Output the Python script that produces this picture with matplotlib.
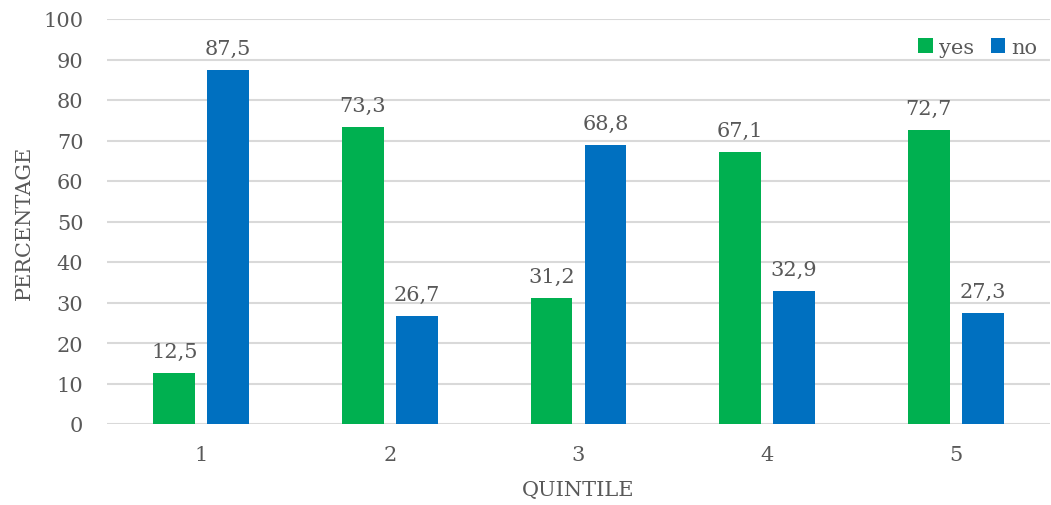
import numpy as np
import matplotlib.pyplot as plt

quintiles = ['1', '2', '3', '4', '5']
yes_pct = [12.5, 73.3, 31.2, 67.1, 72.7]
no_pct = [87.5, 26.7, 68.8, 32.9, 27.3]

plt.rcParams['font.family'] = ['DejaVu Serif']
txt = '#595959'
grid = '#d9d9d9'
fs = 15

fig = plt.figure(figsize=(10.51, 5.06), dpi=100)
ax = fig.add_axes([107 / 1051, 1 - 425 / 506, 943 / 1051, 405 / 506])

x = np.arange(len(quintiles))
w = 0.222
off = 0.143
b1 = ax.bar(x - off, yes_pct, w, color='#00B050', label='yes', zorder=3)
b2 = ax.bar(x + off, no_pct, w, color='#0070C0', label='no', zorder=3)

# value labels, comma as decimal separator
for bars, vals in ((b1, yes_pct), (b2, no_pct)):
    for r, v in zip(bars, vals):
        ax.text(r.get_x() + r.get_width() / 2, v + 3, f'{v:.1f}'.replace('.', ','),
                ha='center', va='bottom', fontsize=fs, color=txt)

ax.set_xlim(-0.5, 4.5)
ax.set_ylim(0, 100)
ax.set_yticks(range(0, 101, 10))
ax.set_xticks(x)
ax.set_xticklabels(quintiles)
ax.tick_params(axis='both', length=0, labelsize=fs, colors=txt)
ax.tick_params(axis='x', pad=15)
ax.tick_params(axis='y', pad=17)
ax.grid(axis='y', color=grid, linewidth=1.5, zorder=0)
for s in ax.spines.values():
    s.set_visible(False)

ax.set_xlabel('QUINTILE', fontsize=fs, color=txt)
ax.set_ylabel('PERCENTAGE', fontsize=fs, color=txt)
ax.xaxis.set_label_coords(0.5, -0.138)
ax.yaxis.set_label_coords(-0.078, 0.5)

ax.legend(loc='upper right', bbox_to_anchor=(1.0, 0.985), ncol=2, frameon=False,
          fontsize=fs, labelcolor=txt, handlelength=0.7, handleheight=0.7,
          handletextpad=0.3, columnspacing=0.8, borderaxespad=0.2)

fig.savefig('out.png', dpi=100)
